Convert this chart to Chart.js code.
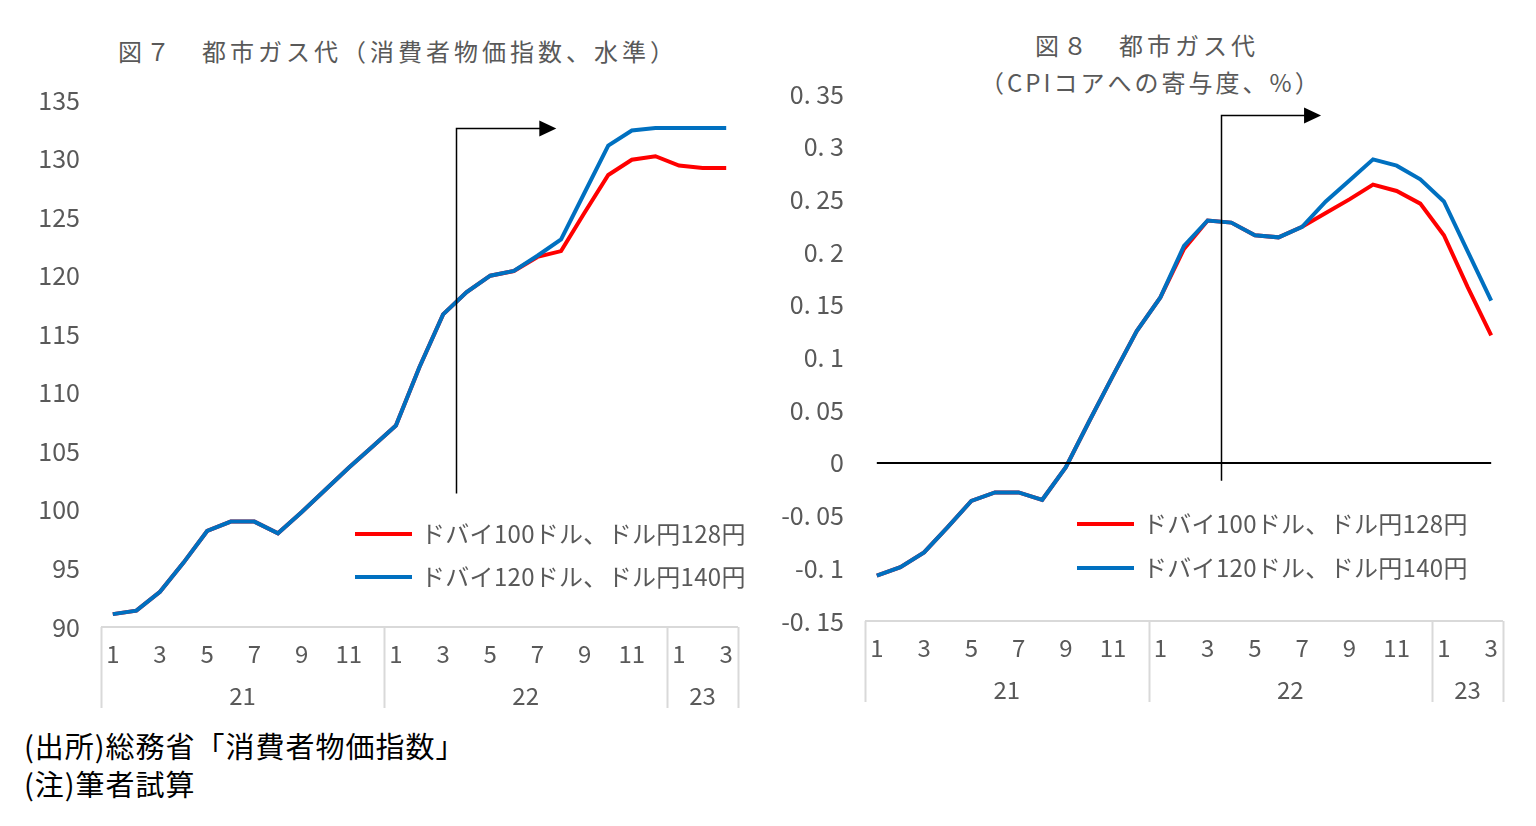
<!DOCTYPE html>
<html>
<head>
<meta charset="utf-8">
<script src="https://cdn.jsdelivr.net/npm/chart.js@4"></script>
<style>
  body { margin: 0; background: #fff; width: 1536px; height: 826px; position: relative; overflow: hidden;
         font-family: "Noto Sans CJK JP", sans-serif; }
  .box { position: absolute; }
  .ttl { position: absolute; color: #595959; font-size: 24px; white-space: nowrap; letter-spacing: 4px; }
  .leg { position: absolute; color: #595959; font-size: 24px; white-space: nowrap; letter-spacing: 0.3px; }
  .leg span { display: inline-block; width: 57px; height: 4px; vertical-align: middle; margin-right: 9px; position: relative; top: -2px; }
  .note { position: absolute; left: 24px; font-size: 29px; color: #000; white-space: nowrap; letter-spacing: 1px; }
</style>
</head>
<body>
<div class="ttl" style="left:118px; top:33px;">図７　都市ガス代（消費者物価指数、水準）</div>
<div class="ttl" style="left:1035px; top:27px;">図８　都市ガス代</div>
<div class="ttl" style="left:980px; top:64px; letter-spacing:3px;">（CPIコアへの寄与度、%）</div>

<div class="box" style="left:0; top:80px; width:760px; height:640px;"><canvas id="graf-nivel"></canvas></div>
<div class="box" style="left:770px; top:80px; width:766px; height:640px;"><canvas id="graf-kiyo"></canvas></div>

<div class="leg" style="left:355px; top:515px;"><span style="background:#ff0000"></span>ドバイ100ドル、ドル円128円</div>
<div class="leg" style="left:355px; top:558px;"><span style="background:#0070c0"></span>ドバイ120ドル、ドル円140円</div>
<div class="leg" style="left:1077px; top:505px;"><span style="background:#ff0000"></span>ドバイ100ドル、ドル円128円</div>
<div class="leg" style="left:1077px; top:549px;"><span style="background:#0070c0"></span>ドバイ120ドル、ドル円140円</div>

<div class="note" style="top:724px;">(出所)総務省「消費者物価指数」</div>
<div class="note" style="top:762px;">(注)筆者試算</div>

<script>
// meses 2021/1 - 2023/3
const meses = ["1","2","3","4","5","6","7","8","9","10","11","12",
               "1","2","3","4","5","6","7","8","9","10","11","12",
               "1","2","3"];
const anios = ["21", "22", "23"];

// 図7 消費者物価指数 (水準)
const nivel100 = [91.1, 91.4, 93.0, 95.5, 98.2, 99.0, 99.0, 98.0, 99.8, 101.7, 103.6, 105.4,
                  107.2, 112.2, 116.7, 118.6, 120.0, 120.4, 121.6, 122.1, 125.4, 128.6, 129.9, 130.2,
                  129.4, 129.2, 129.2];
const nivel120 = [91.1, 91.4, 93.0, 95.5, 98.2, 99.0, 99.0, 98.0, 99.8, 101.7, 103.6, 105.4,
                  107.2, 112.2, 116.7, 118.6, 120.0, 120.4, 121.7, 123.1, 127.1, 131.1, 132.4, 132.6,
                  132.6, 132.6, 132.6];

// 図8 CPIコアへの寄与度 (%)
const kiyo100 = [-0.107, -0.099, -0.085, -0.061, -0.036, -0.028, -0.028, -0.035, -0.004, 0.040, 0.083, 0.125,
                 0.157, 0.203, 0.230, 0.228, 0.216, 0.214, 0.224, 0.237, 0.250, 0.264, 0.258, 0.246,
                 0.216, 0.167, 0.121];
const kiyo120 = [-0.107, -0.099, -0.085, -0.061, -0.036, -0.028, -0.028, -0.035, -0.004, 0.040, 0.083, 0.125,
                 0.157, 0.206, 0.230, 0.228, 0.216, 0.214, 0.224, 0.248, 0.268, 0.288, 0.282, 0.269,
                 0.248, 0.201, 0.154];

const fuenteNum = '"Liberation Sans Narrow", "Noto Sans CJK JP", sans-serif';
const gris = "#595959";

// eje de categorias con dos niveles (mes / año)
const ejeDosNiveles = {
  id: "ejeDosNiveles",
  afterDraw(chart) {
    const { ctx, chartArea: a, scales: { x } } = chart;
    const bajo = a.bottom + 81;
    ctx.save();
    ctx.strokeStyle = "#d9d9d9";
    ctx.lineWidth = 2;
    ctx.beginPath();
    ctx.moveTo(a.left, a.bottom);
    ctx.lineTo(a.right, a.bottom);
    const cortes = [];
    meses.forEach((m, i) => { if (m === "1") cortes.push(i); });
    cortes.push(meses.length);
    cortes.forEach((i) => {
      const px = Math.round(x.getPixelForValue(i - 0.5)) + 0.5;
      ctx.moveTo(px, a.bottom);
      ctx.lineTo(px, bajo);
    });
    ctx.stroke();
    ctx.fillStyle = gris;
    ctx.font = "24px " + fuenteNum;
    ctx.textAlign = "center";
    ctx.textBaseline = "middle";
    meses.forEach((m, i) => {
      if (Number(m) % 2 === 1) ctx.fillText(m, x.getPixelForValue(i), a.bottom + 27);
    });
    for (let k = 0; k < anios.length; k++) {
      const c = (x.getPixelForValue(cortes[k] - 0.5) + x.getPixelForValue(cortes[k + 1] - 0.5)) / 2;
      ctx.fillText(anios[k], c, a.bottom + 69);
    }
    ctx.restore();
  },
};

// flecha de proyeccion + linea de cero
const flecha = {
  id: "flecha",
  afterDatasetsDraw(chart, args, opts) {
    const { ctx, scales: { x, y } } = chart;
    ctx.save();
    ctx.strokeStyle = "#000";
    ctx.fillStyle = "#000";
    if (opts.cero) {
      ctx.lineWidth = 2;
      ctx.beginPath();
      ctx.moveTo(x.getPixelForValue(0), y.getPixelForValue(0));
      ctx.lineTo(x.getPixelForValue(meses.length - 1), y.getPixelForValue(0));
      ctx.stroke();
    }
    const px = Math.round(x.getPixelForValue(opts.x0)) + 0.5;
    const pTop = Math.round(y.getPixelForValue(opts.yTop)) + 0.5;
    const pFin = x.getPixelForValue(opts.x1);
    ctx.lineWidth = 1.5;
    ctx.beginPath();
    ctx.moveTo(px, y.getPixelForValue(opts.yBot));
    ctx.lineTo(px, pTop);
    ctx.lineTo(pFin - 16, pTop);
    ctx.stroke();
    ctx.beginPath();
    ctx.moveTo(pFin - 17, pTop - 8);
    ctx.lineTo(pFin, pTop);
    ctx.lineTo(pFin - 17, pTop + 8);
    ctx.closePath();
    ctx.fill();
    ctx.restore();
  },
};

function crearGrafico(id, d100, d120, yMin, yMax, pad, yAncho, fmt, flechaOpts) {
  return new Chart(document.getElementById(id), {
    type: "line",
    data: {
      labels: meses,
      datasets: [
        { label: "ドバイ100ドル、ドル円128円", data: d100, borderColor: "#ff0000", borderWidth: 4, pointRadius: 0, order: 1 },
        { label: "ドバイ120ドル、ドル円140円", data: d120, borderColor: "#0070c0", borderWidth: 4, pointRadius: 0, order: 0 },
      ],
    },
    options: {
      responsive: true,
      maintainAspectRatio: false,
      animation: false,
      layout: { padding: pad },
      plugins: { legend: { display: false }, tooltip: { enabled: false }, flecha: flechaOpts },
      scales: {
        x: { display: false, offset: true },
        y: {
          min: yMin,
          max: yMax,
          border: { display: false },
          grid: { display: false, drawTicks: false },
          afterFit: (s) => { s.width = yAncho; s.paddingTop = 0; s.paddingBottom = 0; },
          ticks: { color: gris, padding: 21, font: { family: fuenteNum, size: 25 }, callback: fmt },
        },
      },
    },
    plugins: [ejeDosNiveles, flecha],
  });
}

crearGrafico("graf-nivel", nivel100, nivel120, 90, 135,
  { top: 20, right: 22, bottom: 93, left: 0 }, 101,
  (v) => String(v),
  { x0: 14.55, yBot: 101.4, yTop: 132.6, x1: 18.8, cero: false });

crearGrafico("graf-kiyo", kiyo100, kiyo120, -0.15, 0.35,
  { top: 14, right: 33, bottom: 99, left: 0 }, 95,
  (v) => {
    const r = Math.round(v * 100) / 100;
    if (r === 0) return "0";
    return String(r).replace(".", ". ");
  },
  { x0: 14.58, yBot: -0.017, yTop: 0.33, x1: 18.8, cero: true });
</script>
</body>
</html>
